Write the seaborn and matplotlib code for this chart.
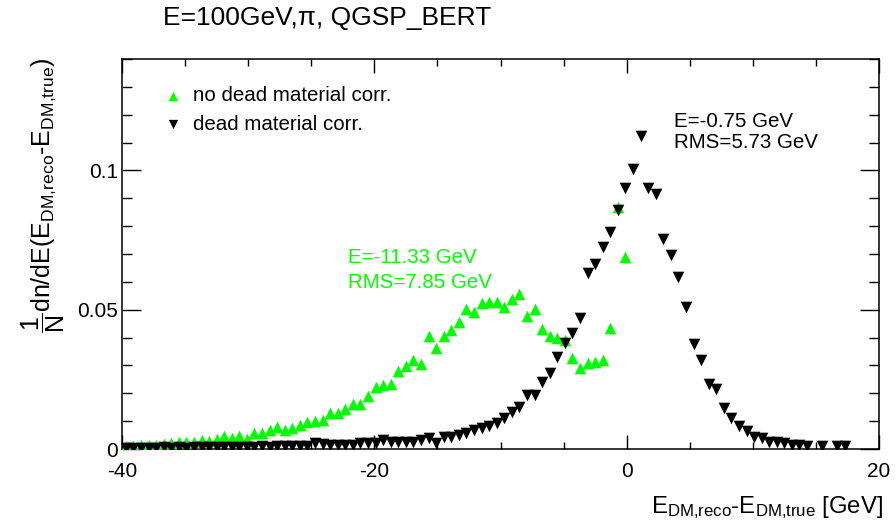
import numpy as np
import pandas as pd
import matplotlib
matplotlib.use('Agg')
import matplotlib.pyplot as plt
import seaborn as sns
from matplotlib.ticker import MultipleLocator

# histogram: 100 bins between -40 and 20 GeV
n_bins = 100
x_lo, x_hi = -40, 20

# no dead material correction (green), one value per bin
no_corr = [0.0011, 0.0011, 0.0014, 0.0014, 0.0014, 0.0018, 0.0023, 0.0026, 0.0026, 0.0026,
           0.0032, 0.0030, 0.0036, 0.0047, 0.0038, 0.0047, 0.0035, 0.0058, 0.0058, 0.0070,
           0.0080, 0.0068, 0.0074, 0.0085, 0.0097, 0.0101, 0.0104, 0.0128, 0.0128, 0.0144,
           0.0162, 0.0162, 0.0190, 0.0224, 0.0230, 0.0233, 0.0280, 0.0297, 0.0321, 0.0305,
           0.0405, 0.0364, 0.0405, 0.0427, 0.0456, 0.0504, 0.0492, 0.0524, 0.0528, 0.0528,
           0.0510, 0.0537, 0.0558, 0.0478, 0.0502, 0.0432, 0.0405, 0.0400, 0.0390, 0.0325,
           0.0291, 0.0309, 0.0313, 0.0319, 0.0436, 0.0869, 0.0690,
           0, 0, 0, 0, 0, 0, 0, 0, 0, 0, 0, 0, 0, 0, 0, 0, 0, 0, 0, 0, 0, 0,
           0, 0, 0, 0, 0, 0, 0, 0, 0, 0, 0]

# with dead material correction (black)
dm_corr = [0.0005, 0.0005, 0.0004, 0.0005, 0.0004, 0.0006, 0.0005, 0.0006, 0.0005, 0.0007,
           0.0006, 0.0007, 0.0006, 0.0008, 0.0007, 0.0008, 0.0009, 0.0008, 0.0010, 0.0009,
           0.0011, 0.0010, 0.0011, 0.0012, 0.0011, 0.0020, 0.0018, 0.0016, 0.0016, 0.0016,
           0.0016, 0.0023, 0.0023, 0.0023, 0.0032, 0.0026, 0.0026, 0.0026, 0.0026, 0.0032,
           0.0041, 0.0023, 0.0042, 0.0044, 0.0050, 0.0058, 0.0068, 0.0074, 0.0082, 0.0092,
           0.0110, 0.0134, 0.0150, 0.0194, 0.0194, 0.0240, 0.0272, 0.0330, 0.0380, 0.0416,
           0.0470, 0.0632, 0.0663, 0.0725, 0.0779, 0.0857, 0.0938, 0.1006, 0.1125, 0.0938,
           0.0914, 0.0755, 0.0695, 0.0618, 0.0510, 0.0376, 0.0319, 0.0234, 0.0214, 0.0146,
           0.0112, 0.0082, 0.0065, 0.0042, 0.0038, 0.0025, 0.0025, 0.0020, 0.0013, 0.0013,
           0.0010, 0, 0.0012, 0, 0.0010, 0.0010, 0, 0, 0, 0]

labels = ['no dead material corr.', 'dead material corr.']
stats_nocorr = ['E=-11.33 GeV', 'RMS=7.85 GeV']
stats_corr = ['E=-0.75 GeV', 'RMS=5.73 GeV']

edges = np.linspace(x_lo, x_hi, n_bins + 1)
centers = 0.5 * (edges[:-1] + edges[1:])

df = pd.DataFrame({'dE': np.concatenate([centers, centers]),
                   'dn': np.array(no_corr + dm_corr),
                   'set': [labels[0]] * n_bins + [labels[1]] * n_bins})
df = df[df['dn'] > 0]   # empty bins are not drawn

sns.set_theme(style='ticks')
plt.rcParams['font.family'] = ['Liberation Sans', 'DejaVu Sans']
plt.rcParams['mathtext.fontset'] = 'custom'
plt.rcParams['mathtext.rm'] = 'Liberation Sans'
plt.rcParams['mathtext.it'] = 'Liberation Sans:italic'
for key in ['text.color', 'axes.labelcolor', 'xtick.color', 'ytick.color', 'xtick.labelcolor', 'ytick.labelcolor']:
    plt.rcParams[key] = 'black'

green = '#00ff00'
fig = plt.figure(figsize=(8.96, 5.32), dpi=100)
ax = fig.add_axes([0.1362, 0.156, 0.8448, 0.733])

sns.scatterplot(data=df[df['set'] == labels[0]], x='dE', y='dn', marker='^', s=70,
                color=green, linewidth=0, label=labels[0], ax=ax, zorder=3)
sns.scatterplot(data=df[df['set'] == labels[1]], x='dE', y='dn', marker='v', s=70,
                color='black', linewidth=0, label=labels[1], ax=ax, zorder=4)

ax.set_xlim(x_lo, x_hi)
ax.set_ylim(0, 0.14)
ax.xaxis.set_minor_locator(MultipleLocator(5))
ax.yaxis.set_minor_locator(MultipleLocator(0.01))
ax.set_xticks([-40, -20, 0, 20])
ax.set_xticklabels(['-40', '-20', '0', '20'])
ax.set_yticks([0, 0.05, 0.1])
ax.set_yticklabels(['0', '0.05', '0.1'])
ax.tick_params(which='both', direction='in', top=True, right=True, labelsize=15, width=1.0,
               color='black', labelcolor='black')
ax.tick_params(axis='x', which='major', length=10, pad=9)
ax.tick_params(axis='x', which='minor', length=5)
ax.tick_params(axis='y', which='major', length=14, pad=3)
ax.tick_params(axis='y', which='minor', length=7)
for sp in ax.spines.values():
    sp.set_linewidth(1.1)
    sp.set_color('black')
ax.set_xlabel('')
ax.set_ylabel('')

leg = ax.legend(loc='upper left', bbox_to_anchor=(0.054, 0.93), frameon=False, fontsize=14.8,
                handlelength=1.0, handletextpad=0.45, labelspacing=0.45, borderpad=0,
                borderaxespad=0, markerscale=0.8, labelcolor='black')

ax.text(0.729, 0.841, stats_corr[0], transform=ax.transAxes, fontsize=14.8, va='center', color='black')
ax.text(0.729, 0.787, stats_corr[1], transform=ax.transAxes, fontsize=14.8, va='center', color='black')
ax.text(0.2985, 0.490, stats_nocorr[0], transform=ax.transAxes, fontsize=14.8, va='center', color=green)
ax.text(0.2985, 0.428, stats_nocorr[1], transform=ax.transAxes, fontsize=14.8, va='center', color=green)

fig.text(0.182, 0.966, 'E=100GeV,\u03c0, QGSP_BERT', fontsize=19, va='center', color='black')
fig.text(0.985, 0.035, 'E$_{\\rm DM{,}reco}$-E$_{\\rm DM{,}true}$ [GeV]', fontsize=17.2, ha='right',
         va='baseline', color='black')
fig.text(0.048, 0.893, '$\\dfrac{\\rm 1}{\\rm N}$dn/dE(E$_{\\rm DM{,}reco}$-E$_{\\rm DM{,}true}$)', fontsize=18,
         rotation=90, rotation_mode='anchor', ha='right', va='center', color='black')

fig.savefig('out.png', dpi=100)
